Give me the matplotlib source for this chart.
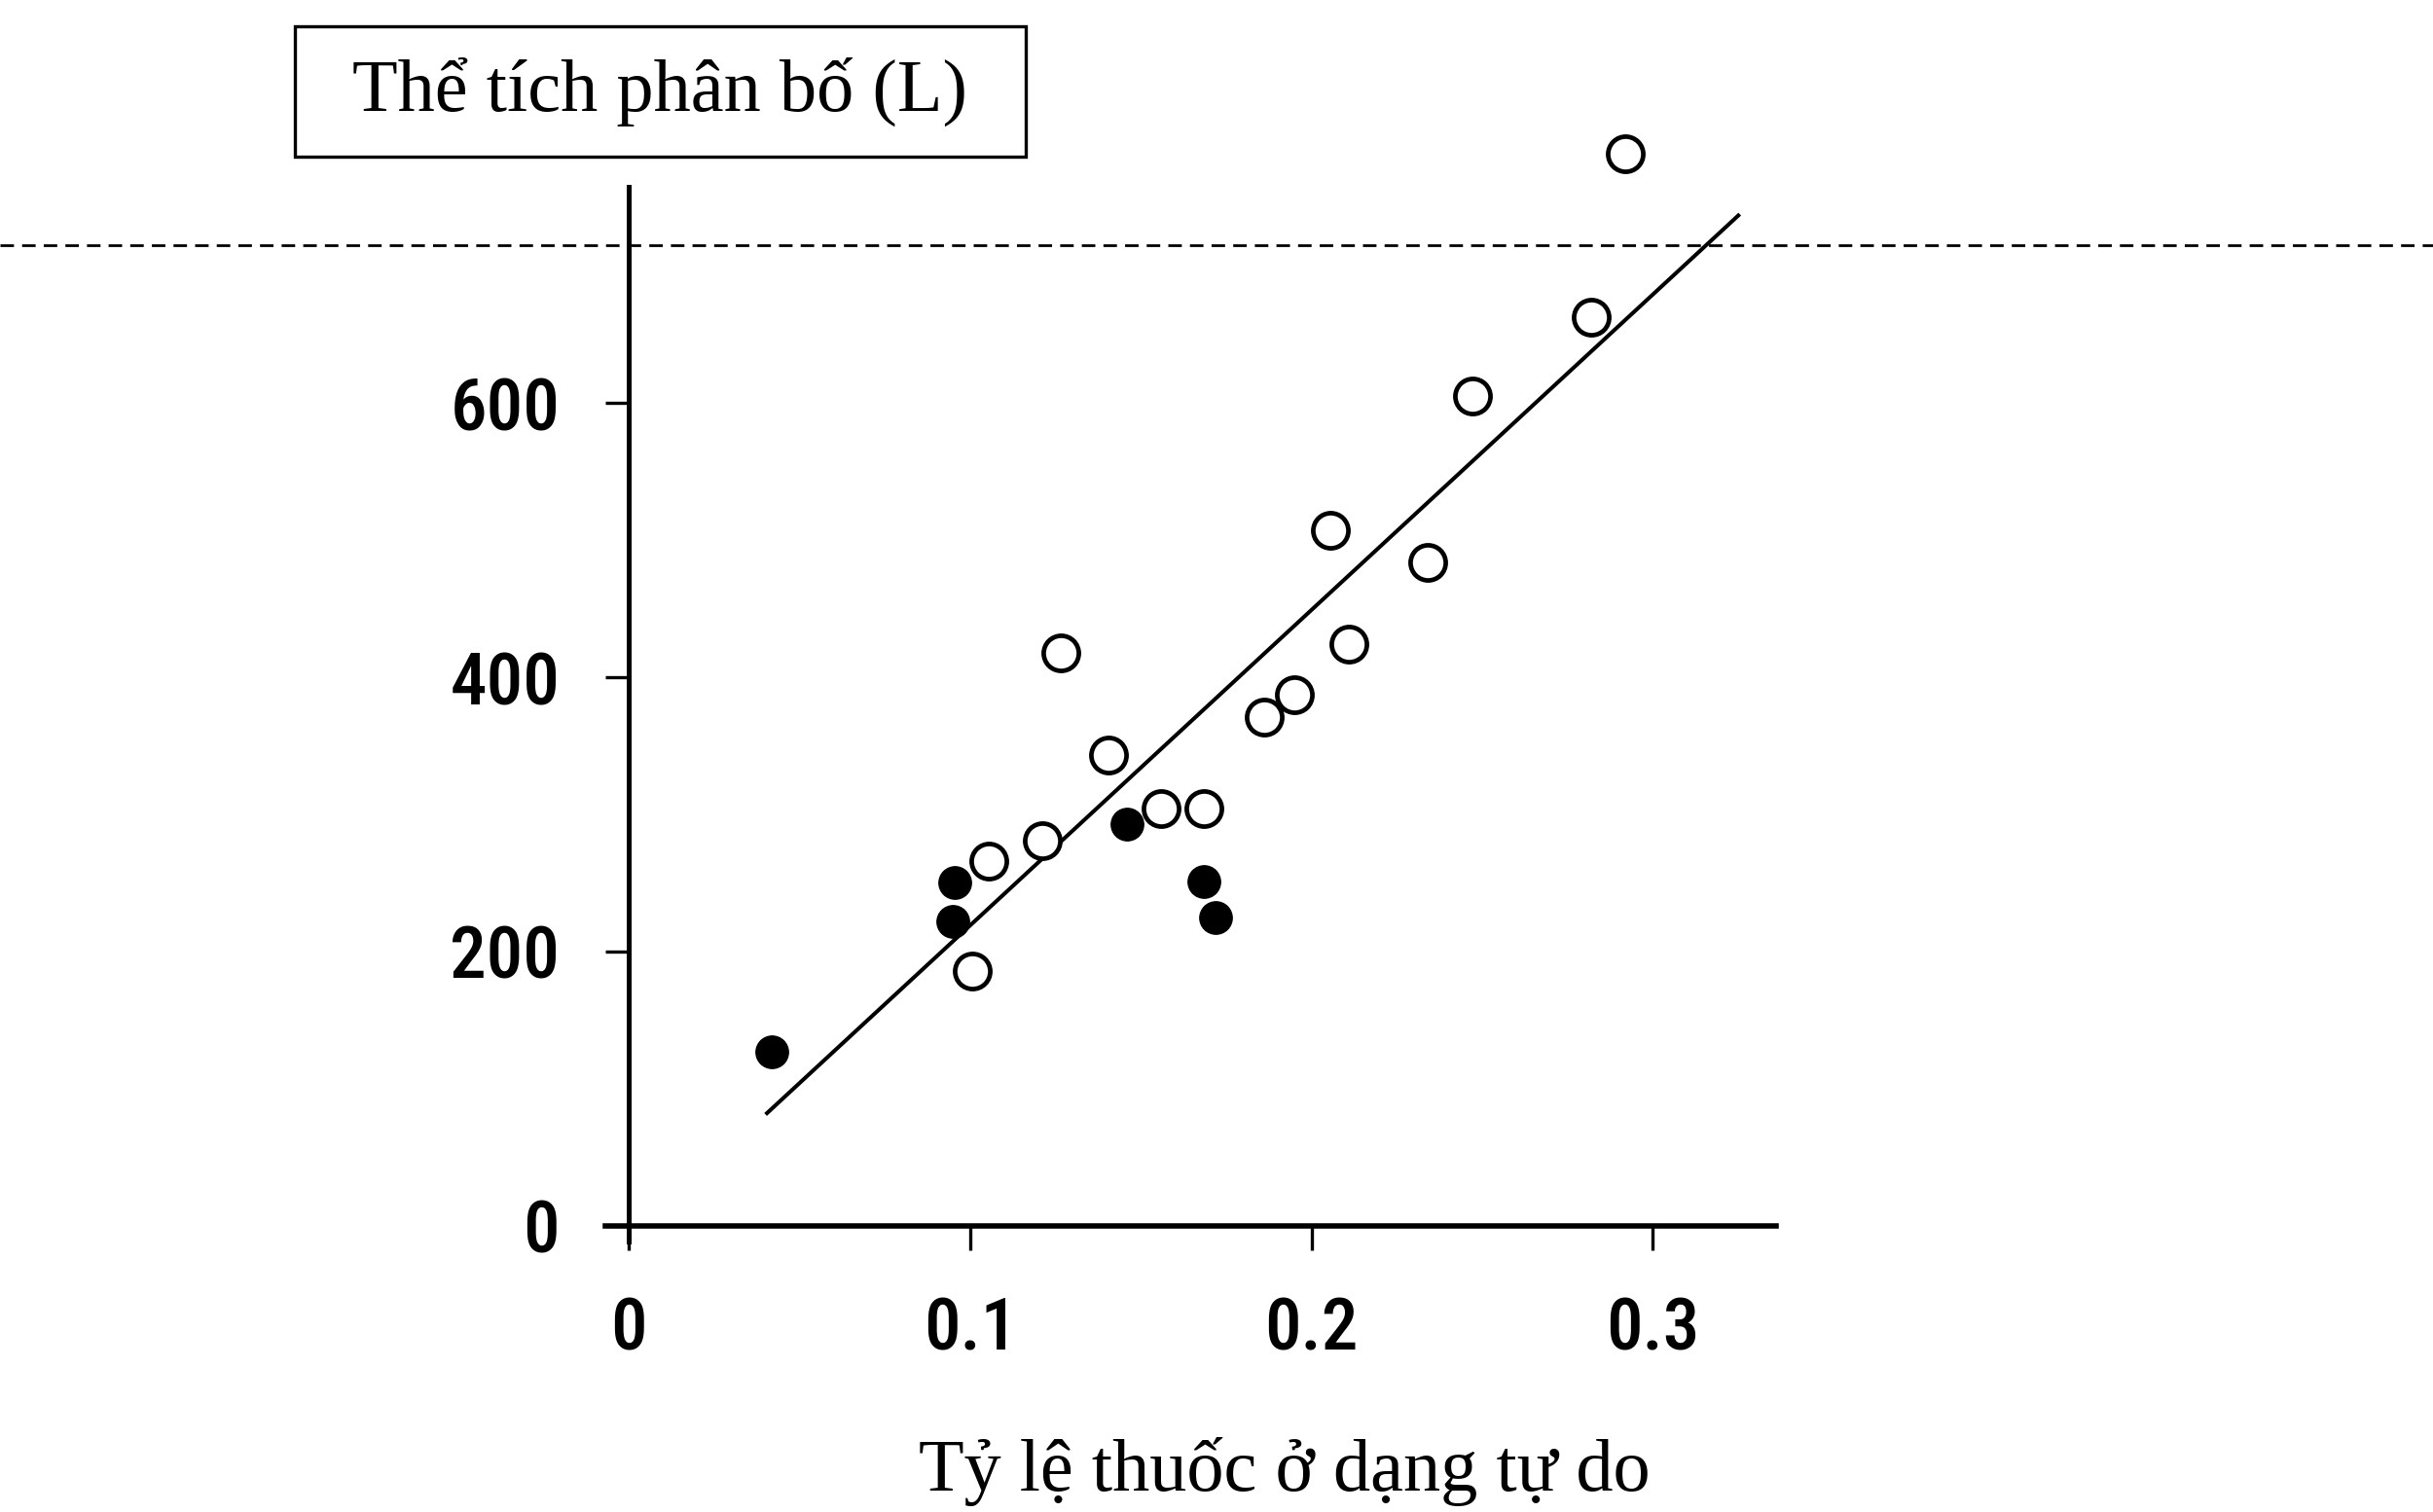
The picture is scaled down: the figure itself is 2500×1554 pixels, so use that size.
import matplotlib
matplotlib.use("Agg")
import matplotlib.pyplot as plt
import matplotlib.transforms as mtransforms
from matplotlib.patches import Rectangle

# ---- data ----
open_x = [0.292, 0.282, 0.247, 0.2055, 0.234, 0.211, 0.1265, 0.195, 0.186,
          0.1405, 0.156, 0.1685, 0.1055, 0.121, 0.1005]
open_y = [782, 663, 605, 507, 484, 424, 418, 387, 371, 343, 304, 304, 266, 281, 186]

filled_x = [0.042, 0.0955, 0.095, 0.146, 0.1685, 0.172]
filled_y = [127, 250, 222, 293, 251, 225]

fit_x = [0.0405, 0.325]
fit_y = [82, 737]

ref_level = 715  # dashed horizontal line (scan artefact)

xticks = [0, 0.1, 0.2, 0.3]
xticklabels = ["0", "0.1", "0.2", "0.3"]
yticks = [0, 200, 400, 600]
yticklabels = ["0", "200", "400", "600"]

title_text = "Thể tích phân bố (L)"
xlabel_text = "Tỷ lệ thuốc ở dạng tự do"

# ---- figure ----
fig = plt.figure(figsize=(25, 15.54), dpi=100)
ax = fig.add_axes([0.2486, 0.1786, 0.4813, 0.6979])
ax.set_xlim(-0.007, 0.336)
ax.set_ylim(-12, 758)

for s in ["top", "right"]:
    ax.spines[s].set_visible(False)
ax.spines["left"].set_position(("data", 0))
ax.spines["bottom"].set_position(("data", 0))
ax.spines["left"].set_linewidth(3.6)
ax.spines["bottom"].set_linewidth(4.0)

tick_font = dict(family=["Roboto Condensed", "Liberation Sans Narrow", "Roboto", "DejaVu Sans"],
                 size=54, weight="medium")
ax.set_xticks(xticks)
ax.set_xticklabels(xticklabels, **tick_font)
ax.set_yticks(yticks)
ax.set_yticklabels(yticklabels, **tick_font)
ax.tick_params(axis="x", direction="out", length=18, width=2.4, pad=34)
ax.tick_params(axis="y", direction="out", length=17, width=2.4, pad=34)

# regression line
ax.plot(fit_x, fit_y, color="black", lw=2.9, zorder=2)

# points
ax.plot(open_x, open_y, linestyle="none", marker="o", markersize=26,
        markerfacecolor="white", markeredgecolor="black", markeredgewidth=3.4,
        zorder=3, clip_on=False)
ax.plot(filled_x, filled_y, linestyle="none", marker="o", markersize=24,
        markerfacecolor="black", markeredgecolor="black", zorder=3, clip_on=False)

# dashed horizontal artefact spanning the figure
trans = mtransforms.blended_transform_factory(fig.transFigure, ax.transData)
ax.plot([0.0, 1.0], [ref_level, ref_level], transform=trans, color="black",
        lw=2.0, linestyle=(0, (5, 3)), clip_on=False, zorder=1)

serif = ["Liberation Serif", "DejaVu Serif"]
# title box (y-axis label)
fig.add_artist(Rectangle((0.1212, 0.8964), 0.3004, 0.0862, transform=fig.transFigure,
                         fill=False, edgecolor="black", lw=2.4))
fig.text(0.2714, 0.9395, title_text, family=serif,
         fontsize=55, ha="center", va="center")

# x label
fig.text(0.528, 0.014, xlabel_text, family=serif,
         fontsize=55, ha="center", va="baseline")

fig.savefig("out.png", dpi=100, facecolor="white")
